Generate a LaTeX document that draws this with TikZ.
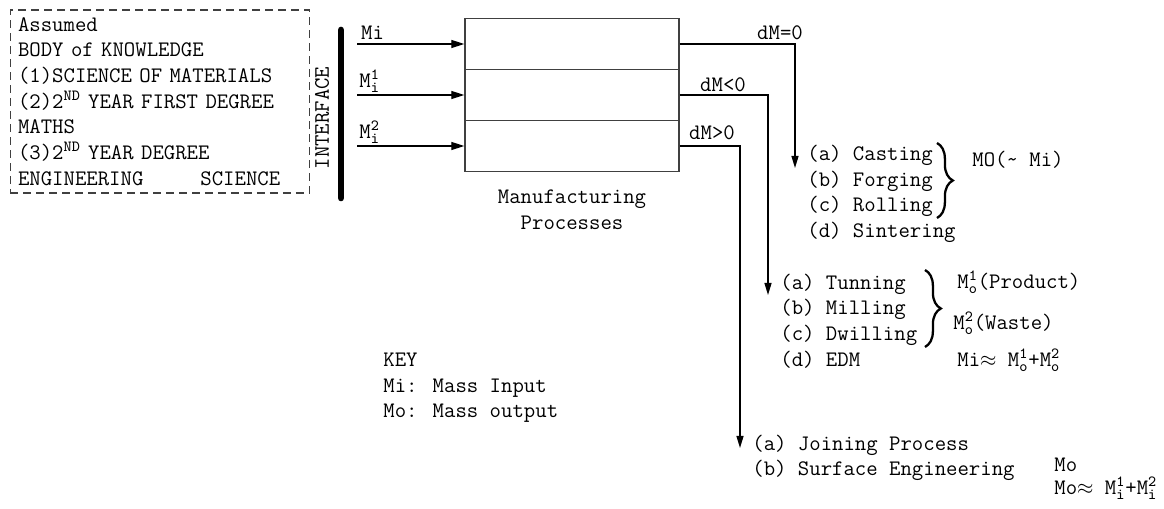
\documentclass[tikz,border=0pt]{standalone}
\usepackage{amsmath}
\usetikzlibrary{arrows.meta,decorations.pathreplacing}

\newcommand{\Mio}[2]{$\text{M}^{\text{#2}}_{\text{#1}}$}

\begin{document}
\begin{tikzpicture}[
    x=0.02cm, y=-0.02cm,
    every node/.style={font=\ttfamily\fontsize{12.6pt}{14.6pt}\selectfont, inner sep=0pt},
    knowbox/.style={draw=black!75, dash pattern=on 0.16cm off 0.1cm, line width=0.6pt,
        minimum width=6cm, minimum height=3.66cm, text width=5.68cm, align=left, inner xsep=0.16cm},
    procbox/.style={draw=black!75, line width=0.8pt, minimum width=4.28cm, minimum height=1.02cm},
    flow/.style={line width=0.7pt, -{Triangle[length=2.6mm,width=1.6mm]}},
    outflow/.style={line width=0.7pt, -{Triangle[length=2.4mm,width=1.4mm]}},
    lab/.style={anchor=west, align=left},
    brc/.style={decorate, decoration={brace, amplitude=9pt}, line width=1.3pt}
]
\useasboundingbox (0,0) rectangle (1164,509);

% predpoklady
\node[knowbox] (know) at (160,101.5) {Assumed\\
BODY of KNOWLEDGE\\
(1)SCIENCE OF MATERIALS\\
(2)2\textsuperscript{ND} YEAR FIRST DEGREE\\
MATHS\\
(3)2\textsuperscript{ND} YEAR DEGREE\\
ENGINEERING\phantom{00000}SCIENCE};

% rozhrani
\coordinate (ifTop) at (341,30);
\coordinate (ifBot) at (341,198);
\draw[line width=3.8pt, line cap=round] (ifTop) -- (ifBot);
\node[rotate=90] (iface) at (322,118) {INTERFACE};

% vyrobni procesy
\node[procbox] (p1) at (572,44) {};
\node[procbox] (p2) at (572,95) {};
\node[procbox] (p3) at (572,146) {};
\node[align=center] (mproc) at (572,210) {Manufacturing\\Processes};

% vstupy
\coordinate (in1) at (357,44);
\coordinate (in2) at (357,95);
\coordinate (in3) at (357,146);
\draw[flow] (in1) -- node[pos=0, above right, inner sep=2pt] (mi0) {Mi} (p1.west);
\draw[flow] (in2) -- node[pos=0, above right, inner sep=1pt] (mi1) {\Mio{i}{1}} (p2.west);
\draw[flow] (in3) -- node[pos=0, above right, inner sep=1pt] (mi2) {\Mio{i}{2}} (p3.west);

% vystupy
\coordinate (o1) at (795,168);
\coordinate (o2) at (768,295);
\coordinate (o3) at (740,448);
\draw[outflow] (p1.east) -| (o1);
\draw[outflow] (p2.east) -| (o2);
\draw[outflow] (p3.east) -| (o3);
\node (dm0) at (780,33) {dM=0};
\node (dmneg) at (723,85) {dM<0};
\node (dmpos) at (712,133) {dM>0};

% tvareni
\node[lab] (form) at (807,194) {(a) Casting\\(b) Forging\\(c) Rolling\\(d) Sintering};
\draw[brc] (937,143) -- (937,218);
\node[lab] (mo0) at (972,160) {MO(\textasciitilde{} Mi)};

% obrabeni
\node[lab] (mach) at (780,321) {(a) Tunning\\(b) Milling\\(c) Dwilling\\(d) EDM};
\draw[brc] (925,270) -- (925,347);
\node[lab] (prod) at (957,282) {\Mio{o}{1}(Product)};
\node[lab] (waste) at (953,323) {\Mio{o}{2}(Waste)};
\node[lab] (bal1) at (957,360) {Mi$\approx$ \Mio{o}{1}+\Mio{o}{2}};

% spojovani
\node[lab] (join) at (752,458) {(a) Joining Process\\(b) Surface Engineering};
\node[lab] (mo1) at (1054,465) {Mo};
\node[lab] (bal2) at (1054,488) {Mo$\approx$ \Mio{i}{1}+\Mio{i}{2}};

% legenda
\node[lab] (key) at (383,388) {KEY\\Mi: Mass Input\\Mo: Mass output};

\end{tikzpicture}
\end{document}
